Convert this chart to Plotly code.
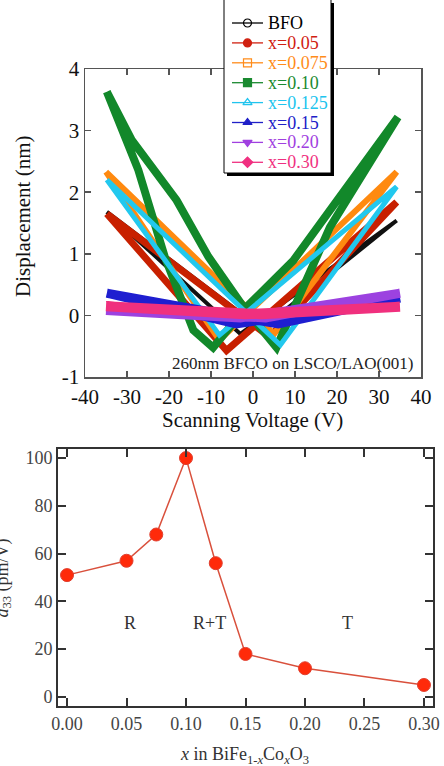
import plotly.graph_objects as go

# ---------------- data: top panel (butterfly loops, vertices) -------------
V_BFO = [-34.8, 2.0, 34.2, -3.0, -34.8]
D_BFO = [1.68, -0.22, 1.54, -0.30, 1.68]
V_005 = [-34.8, 4.0, 34.2, -6.3, -34.8]
D_005 = [1.65, -0.35, 1.84, -0.57, 1.65]
V_0075 = [-35.0, 5.0, 34.2, -8.0, -35.0]
D_0075 = [2.33, -0.30, 2.33, -0.40, 2.33]
V_010 = [-34.8, -28.9, -18.2, -10.6, -2.3, 5.6, 11.2, 18.3, 34.5, 9.6, -1.5, -9.5,
         -14.2, -21.0, -27.3, -34.8]
D_010 = [3.63, 2.85, 1.87, 0.95, 0.14, -0.52, 0.34, 1.43, 3.22, 0.89, 0.14, -0.52,
         -0.24, 0.95, 2.36, 3.63]
V_0125 = [-34.8, 6.5, 34.2, -8.0, -34.8]
D_0125 = [2.20, -0.48, 2.09, -0.32, 2.20]
V_015 = [-34.8, 6.0, 35.0, -4.0, -34.8]
D_015 = [0.36, -0.14, 0.28, -0.14, 0.36]
V_020 = [-35.0, 3.0, 35.0, -3.0, -35.0]
D_020 = [0.08, -0.04, 0.36, -0.04, 0.08]
V_030 = [-35.0, 2.0, 35.0, -2.0, -35.0]
D_030 = [0.15, 0.02, 0.14, 0.02, 0.15]

series_labels = ["BFO", "x=0.05", "x=0.075", "x=0.10", "x=0.125", "x=0.15", "x=0.20", "x=0.30"]

V_tickvals = [-40, -30, -20, -10, 0, 10, 20, 30, 40]
V_ticktext = ["-40", "-30", "-20", "-10", "0", "10", "20", "30", "40"]
D_tickvals = [-1, 0, 1, 2, 3, 4]
D_ticktext = ["-1", "0", "1", "2", "3", "4"]

# ---------------- data: bottom panel ----------------
x_comp = [0.00, 0.05, 0.075, 0.10, 0.125, 0.15, 0.20, 0.30]
d33 = [51, 57, 68, 100, 56, 18, 12, 5]
x_tickvals = [0.00, 0.05, 0.10, 0.15, 0.20, 0.25, 0.30]
x_ticktext = ["0.00", "0.05", "0.10", "0.15", "0.20", "0.25", "0.30"]
d33_tickvals = [0, 20, 40, 60, 80, 100]
phase_labels = ["R", "R+T", "T"]
phase_x = [0.053, 0.120, 0.236]
phase_y = [31, 31, 31]

# ---------------- styles ----------------
SERIF = "Liberation Serif"
loop_colors = ["#111111", "#c82000", "#ff8a10", "#12882a", "#22c8ee", "#1e1ed0", "#9c42e0", "#f0307e"]
text_colors = ["#000000", "#d02010", "#ff8c1a", "#1a8a30", "#20c4ee", "#2020c8", "#a040e0", "#f03080"]
loop_widths = [4, 7, 6, 8, 5, 9, 9, 10]
symbols = ["circle-open", "circle", "square-open", "square", "triangle-up-open",
           "triangle-up", "triangle-down", "diamond"]

loops = [(V_BFO, D_BFO), (V_005, D_005), (V_0075, D_0075), (V_010, D_010),
         (V_0125, D_0125), (V_015, D_015), (V_020, D_020), (V_030, D_030)]

fig = go.Figure()

for (V, D), col, w in zip(loops, loop_colors, loop_widths):
    fig.add_trace(go.Scatter(x=V, y=D, mode="lines", xaxis="x", yaxis="y",
                             line=dict(color=col, width=w), showlegend=False,
                             hoverinfo="skip"))

fig.add_trace(go.Scatter(x=x_comp, y=d33, mode="lines+markers", xaxis="x2", yaxis="y2",
                         line=dict(color="#d9503c", width=1.5),
                         marker=dict(size=13, color="#ff2a0a", line=dict(color="#e04030", width=1)),
                         showlegend=False, hoverinfo="skip"))

# ---------------- manual legend on pixel overlay axes ----------------
LEG_TOP = 23
LEG_STEP = 19.9
shapes = [
    dict(type="rect", xref="x3", yref="y3", x0=227, x1=334, y0=3, y1=176,
         fillcolor="#000000", line=dict(width=0), layer="below"),
    dict(type="rect", xref="x3", yref="y3", x0=224, x1=331, y0=-2, y1=173,
         fillcolor="#ffffff", line=dict(color="#000000", width=1), layer="below"),
]
annotations = []
for i, (lab, lc, tc, sym) in enumerate(zip(series_labels, loop_colors, text_colors, symbols)):
    yy = LEG_TOP + i * LEG_STEP
    fig.add_trace(go.Scatter(x=[232, 263], y=[yy, yy], mode="lines", xaxis="x3", yaxis="y3",
                             line=dict(color=tc, width=1.3), showlegend=False, hoverinfo="skip"))
    fig.add_trace(go.Scatter(x=[247.5], y=[yy], mode="markers", xaxis="x3", yaxis="y3",
                             marker=dict(symbol=sym, size=8, color=tc, line=dict(color=tc, width=1.2)),
                             showlegend=False, hoverinfo="skip"))
    annotations.append(dict(xref="x3", yref="y3", x=266, y=yy, text=lab, showarrow=False,
                            xanchor="left", yanchor="middle",
                            font=dict(family=SERIF, size=18, color=tc)))

# axis titles and notes (pixel overlay coordinates)
annotations += [
    dict(xref="x3", yref="y3", x=252.5, y=420, text="Scanning Voltage (V)", showarrow=False,
         xanchor="center", yanchor="middle", font=dict(family=SERIF, size=21, color="#111")),
    dict(xref="x3", yref="y3", x=23, y=216, text="Displacement (nm)", showarrow=False,
         textangle=-90, xanchor="center", yanchor="middle",
         font=dict(family=SERIF, size=21, color="#111")),
    dict(xref="x3", yref="y3", x=415, y=363, text="260nm BFCO on LSCO/LAO(001)", showarrow=False,
         xanchor="right", yanchor="middle", font=dict(family=SERIF, size=17, color="#222")),
    dict(xref="x3", yref="y3", x=244, y=755,
         text="<i>x</i> in BiFe<sub>1-<i>x</i></sub>Co<sub><i>x</i></sub>O<sub>3</sub>",
         showarrow=False, xanchor="center", yanchor="middle",
         font=dict(family=SERIF, size=18, color="#333")),
    dict(xref="x3", yref="y3", x=16, y=578, text="<i>d</i><sub>33</sub> (pm/V)", showarrow=False,
         textangle=-90, xanchor="right", yanchor="middle",
         font=dict(family=SERIF, size=18, color="#333")),
]
for lab, px, py in zip(phase_labels, phase_x, phase_y):
    annotations.append(dict(xref="x2", yref="y2", x=px, y=py, text=lab, showarrow=False,
                            xanchor="center", yanchor="middle",
                            font=dict(family=SERIF, size=18, color="#333")))

W, H = 444, 766
axis_common = dict(showline=True, mirror="ticks", ticks="inside", showgrid=False, zeroline=False,
                   automargin=False)

fig.update_layout(
    width=W, height=H, autosize=False,
    margin=dict(l=0, r=0, t=0, b=0, pad=0, autoexpand=False),
    paper_bgcolor="#ffffff", plot_bgcolor="rgba(0,0,0,0)",
    showlegend=False, hovermode=False,
    font=dict(family=SERIF),
    xaxis=dict(domain=[85 / W, 421 / W], range=[-40, 40], anchor="y",
               tickvals=V_tickvals, ticktext=V_ticktext,
               linecolor="#555", linewidth=1.5, tickcolor="#555", ticklen=6, tickwidth=1.5,
               tickfont=dict(family=SERIF, size=21, color="#111"), **axis_common),
    yaxis=dict(domain=[1 - 377 / H, 1 - 69 / H], range=[-1, 4], anchor="x",
               tickvals=D_tickvals, ticktext=D_ticktext,
               linecolor="#555", linewidth=1.5, tickcolor="#555", ticklen=6, tickwidth=1.5,
               tickfont=dict(family=SERIF, size=21, color="#111"), **axis_common),
    xaxis2=dict(domain=[58 / W, 433 / W], range=[-0.0076, 0.3076], anchor="y2",
                tickvals=x_tickvals, ticktext=x_ticktext,
                linecolor="#333", linewidth=2, tickcolor="#333", ticklen=8, tickwidth=2,
                tickfont=dict(family=SERIF, size=18, color="#444"), **axis_common),
    yaxis2=dict(domain=[1 - 706 / H, 1 - 449 / H], range=[-3.8, 103.8], anchor="x2",
                tickvals=d33_tickvals,
                linecolor="#333", linewidth=2, tickcolor="#333", ticklen=8, tickwidth=2,
                tickfont=dict(family=SERIF, size=18, color="#444"), **axis_common),
    xaxis3=dict(domain=[0, 1], range=[0, W], anchor="y3", visible=False, fixedrange=True,
                automargin=False),
    yaxis3=dict(domain=[0, 1], range=[H, 0], anchor="x3", visible=False, fixedrange=True,
                automargin=False),
    shapes=shapes,
    annotations=annotations,
)

# remove the default page margin so the figure sits at the window's top-left corner
fig.write_html("out.html",
               config={"displayModeBar": False, "staticPlot": True},
               post_script="document.body.style.margin='0';document.body.style.overflow='hidden';")
